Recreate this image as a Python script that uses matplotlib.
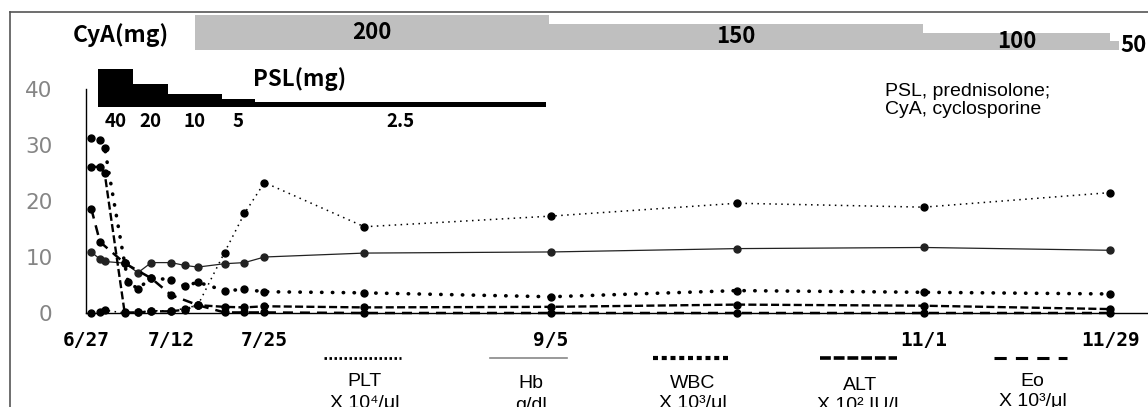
import numpy as np
import matplotlib
matplotlib.use("Agg")
import matplotlib.pyplot as plt
from matplotlib.transforms import blended_transform_factory
from matplotlib.lines import Line2D

# ---------------- data ----------------
tick_days = [-0.8, 12, 26, 69, 125, 153]
tick_labels = ["6/27", "7/12", "7/25", "9/5", "11/1", "11/29"]

days = [0, 1.3, 2, 5, 7, 9, 12, 14, 16, 20, 23, 26, 41, 69, 97, 125, 153]
plt_vals = [0.0, 0.1, 0.5, 0.0, 0.1, 0.4, 0.4, 0.8, 1.4, 10.8, 17.8, 23.3, 15.4, 17.3, 19.6, 18.9, 21.5]
hb_vals = [10.9, 9.6, 9.2, 8.9, 7.2, 9.0, 9.0, 8.5, 8.2, 8.8, 9.0, 10.0, 10.7, 10.9, 11.5, 11.7, 11.2]
alt_vals = [26.1, 26.1, 25.0, 0.1, 0.1, 0.3, 0.3, 0.6, 1.4, 1.1, 1.0, 1.2, 1.0, 1.1, 1.5, 1.3, 0.7]
wbc_days = [0, 1.3, 2, 5, 5.5, 7, 9, 12, 14, 16, 20, 23, 26, 41, 69, 97, 125, 153]
wbc_vals = [31.3, 30.9, 29.5, 8.9, 5.6, 4.3, 6.3, 5.9, 4.8, 5.5, 4.0, 4.2, 3.8, 3.6, 2.9, 4.0, 3.7, 3.4]
eo_days = [0, 1.3, 5, 9, 12, 16, 20, 23, 26, 41, 69, 97, 125, 153]
eo_vals = [18.6, 12.7, 8.9, 6.2, 3.2, 1.4, 0.1, 0.1, 0.1, 0.0, 0.0, 0.0, 0.0, 0.0]

cya_start = [16, 69, 125, 153]
cya_end = [69, 125, 153, 160]
cya_dose = [200, 150, 100, 50]

psl_start = [1.5, 6.7, 12, 20, 25]
psl_end = [6.7, 12, 20, 25, 68.5]
psl_dose = [40, 20, 10, 5, 2.5]

legend_names = ["PLT", "Hb", "WBC", "ALT", "Eo"]
legend_units = ["X 10\u2074/\u03bcl", "g/dl", "X 10\u00b3/\u03bcl", "X 10\u00b2 IU/L", "X 10\u00b3/\u03bcl"]

# ---------------- layout helpers ----------------
W, H = 1148, 407
def fx(x):
    return x / W
def fy(y):
    return 1 - y / H

PX0, PXD = 88.0, 6.68          # pixel of day 0, pixels per day
XL = (86 - PX0) / PXD
XR = (1148 - PX0) / PXD

JP = ["Noto Sans CJK JP", "DejaVu Sans"]
SANS = ["Liberation Sans", "DejaVu Sans"]

fig = plt.figure(figsize=(W / 100, H / 100), dpi=100)
fig.patch.set_facecolor("white")

# outer frame
fig.add_artist(Line2D([fx(10), fx(10)], [fy(12), fy(420)], color="#555555", lw=1.2))
fig.add_artist(Line2D([fx(10), fx(1160)], [fy(12), fy(12)], color="#555555", lw=1.2))

# ---------------- main axes ----------------
ax = fig.add_axes([fx(86), fy(313), (1148 - 86) / W, (313 - 89) / H])
ax.set_xlim(XL, XR)
ax.set_ylim(0, 40)
for s in ["top", "right"]:
    ax.spines[s].set_visible(False)
ax.spines["left"].set_linewidth(1.0)
ax.spines["bottom"].set_linewidth(1.0)
ax.set_yticks([0, 10, 20, 30, 40])
ax.tick_params(axis="y", length=0, pad=24, labelsize=15.5, labelcolor="#858585")
for lab in ax.get_yticklabels():
    lab.set_family(["DejaVu Sans"])
ax.set_xticks(tick_days)
ax.set_xticklabels(tick_labels, family=["DejaVu Sans Mono"], fontweight="bold", fontsize=14)
ax.tick_params(axis="x", length=0, pad=13)

ms = 5
ax.plot(days, plt_vals, color="black", lw=1.1, ls=(0, (1, 2.9)), marker="o", ms=ms, clip_on=False, zorder=3)
ax.plot(days, hb_vals, color="#222222", lw=0.9, ls="-", marker="o", ms=ms, clip_on=False, zorder=3)
ax.plot(wbc_days, wbc_vals, color="black", lw=2.6, ls=(0, (0.1, 2.9)), dash_capstyle="round",
        marker="o", ms=ms, clip_on=False, zorder=3)
ax.plot(days, alt_vals, color="black", lw=1.7, ls=(0, (3.4, 1.4)), marker="o", ms=ms, clip_on=False, zorder=3)
ax.plot(eo_days, eo_vals, color="black", lw=1.8, ls=(0, (4.0, 2.8)), marker="o", ms=ms, clip_on=False, zorder=3)

# ---------------- CyA axes ----------------
axc = fig.add_axes([fx(86), fy(50), (1148 - 86) / W, 35 / H])
axc.set_xlim(XL, XR)
axc.set_ylim(0, 200)
axc.axis("off")
axc.bar(cya_start, cya_dose, width=np.subtract(cya_end, cya_start), align="edge",
        color="#bfbfbf", edgecolor="none", clip_on=False)
for s, e, d in zip(cya_start, cya_end, cya_dose):
    kw = {}
    if d == 50:
        kw["bbox"] = dict(facecolor="white", edgecolor="none", pad=1.0)
    axc.text((s + e) / 2, d / 2, str(d), ha="center", va="center", fontsize=16,
             fontweight="bold", family=JP, clip_on=False, **kw)
fig.text(fx(121), fy(35), "CyA(mg)", ha="center", va="center", fontsize=16.5,
         fontweight="bold", family=JP)

# ---------------- PSL axes ----------------
axp = fig.add_axes([fx(86), fy(107), (1148 - 86) / W, 38 / H])
axp.set_xlim(XL, XR)
axp.set_yscale("function", functions=(lambda v: np.power(np.clip(v, 0, None), 0.75),
                                      lambda v: np.power(np.clip(v, 0, None), 1 / 0.75)))
axp.set_ylim(0, 40)
axp.axis("off")
axp.bar(psl_start, psl_dose, width=np.subtract(psl_end, psl_start), align="edge",
        color="black", edgecolor="none")
tr = blended_transform_factory(axp.transData, fig.transFigure)
for s, e, d in zip(psl_start, psl_end, psl_dose):
    axp.text((s + e) / 2, fy(121), f"{d:g}", transform=tr, ha="center", va="center",
             fontsize=13.5, fontweight="bold", family=JP)
fig.text(fx(300), fy(79), "PSL(mg)", ha="center", va="center", fontsize=16,
         fontweight="bold", family=JP)

# annotation
fig.text(fx(885), fy(91), "PSL, prednisolone;", ha="left", va="center", fontsize=14, family=SANS)
fig.text(fx(885), fy(109), "CyA, cyclosporine", ha="left", va="center", fontsize=14, family=SANS)

# ---------------- bottom legend ----------------
leg_x0 = [324, 490, 653, 820, 994]
leg_x1 = [401, 567, 728, 897, 1067]
leg_style = [
    dict(color="black", lw=2.0, ls=(0, (0.9, 0.9))),
    dict(color="#888888", lw=1.2, ls="-"),
    dict(color="black", lw=3.0, ls=(0, (1.2, 0.9))),
    dict(color="black", lw=2.6, ls=(0, (3.0, 0.8))),
    dict(color="black", lw=2.2, ls=(0, (4.0, 3.0))),
]
name_y = [382, 384, 384, 385, 381]
unit_y = [403, 405, 404, 405, 401]
for x0, x1, st, nm, un, ny, uy in zip(leg_x0, leg_x1, leg_style, legend_names, legend_units, name_y, unit_y):
    fig.add_artist(Line2D([fx(x0), fx(x1)], [fy(358), fy(358)], **st))
    xc = (x0 + x1) / 2 + 2
    fig.text(fx(xc), fy(ny), nm, ha="center", va="center", fontsize=14, family=SANS)
    fig.text(fx(xc), fy(uy), un, ha="center", va="center", fontsize=14, family=SANS)

fig.savefig("out.png", dpi=100)
